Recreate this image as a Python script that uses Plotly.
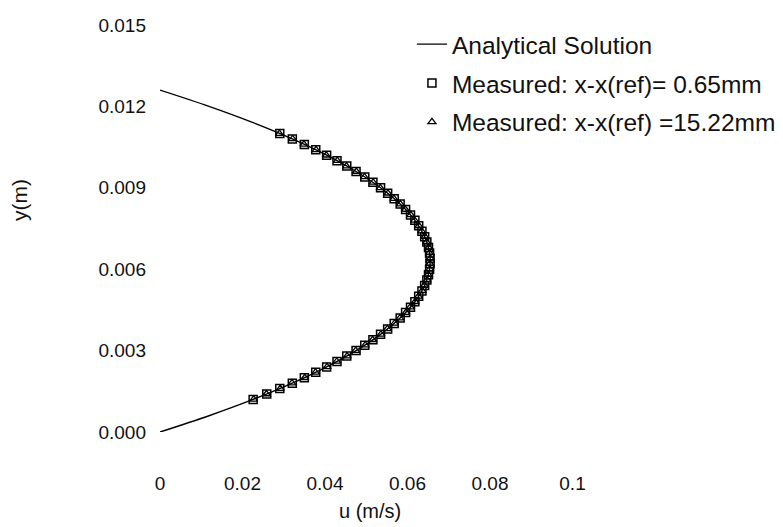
import plotly.graph_objects as go

# Analytical solution
y_line = [0.0, 0.0006, 0.0012, 0.0018, 0.0024, 0.0030, 0.0036, 0.0042, 0.0048, 0.0054, 0.0060,
          0.0066, 0.0072, 0.0078, 0.0084, 0.0090, 0.0096, 0.0102, 0.0108, 0.0114, 0.0120, 0.0126]
u_line = [0.0, 0.01188, 0.02258, 0.03208, 0.04040, 0.04753, 0.05347, 0.05822, 0.06179, 0.06416, 0.06535,
          0.06535, 0.06416, 0.06179, 0.05822, 0.05347, 0.04753, 0.04040, 0.03208, 0.02258, 0.01188, 0.0]

# Measured points
y_meas = [0.0012, 0.0014, 0.0016, 0.0018, 0.0020, 0.0022, 0.0024, 0.0026, 0.0028, 0.0030,
          0.0032, 0.0034, 0.0036, 0.0038, 0.0040, 0.0042, 0.0044, 0.0046, 0.0048, 0.0050,
          0.0052, 0.0054, 0.0056, 0.0058, 0.0060, 0.0062, 0.0064, 0.0066, 0.0068, 0.0070,
          0.0072, 0.0074, 0.0076, 0.0078, 0.0080, 0.0082, 0.0084, 0.0086, 0.0088, 0.0090,
          0.0092, 0.0094, 0.0096, 0.0098, 0.0100, 0.0102, 0.0104, 0.0106, 0.0108, 0.0110]
u_meas1 = [0.02258, 0.02588, 0.02904, 0.03208, 0.03499, 0.03776, 0.04040, 0.04291, 0.04528, 0.04753,
           0.04964, 0.05162, 0.05347, 0.05519, 0.05677, 0.05822, 0.05954, 0.06073, 0.06179, 0.06271,
           0.06350, 0.06416, 0.06469, 0.06509, 0.06535, 0.06548, 0.06548, 0.06535, 0.06509, 0.06469,
           0.06416, 0.06350, 0.06271, 0.06179, 0.06073, 0.05954, 0.05822, 0.05677, 0.05519, 0.05347,
           0.05162, 0.04964, 0.04753, 0.04528, 0.04291, 0.04040, 0.03776, 0.03499, 0.03208, 0.02904]
u_meas2 = [0.02270, 0.02580, 0.02915, 0.03200, 0.03510, 0.03770, 0.04050, 0.04285, 0.04535, 0.04745,
           0.04975, 0.05155, 0.05355, 0.05512, 0.05685, 0.05815, 0.05960, 0.06068, 0.06185, 0.06265,
           0.06355, 0.06410, 0.06475, 0.06502, 0.06540, 0.06542, 0.06553, 0.06530, 0.06514, 0.06462,
           0.06422, 0.06344, 0.06277, 0.06172, 0.06079, 0.05948, 0.05828, 0.05670, 0.05525, 0.05340,
           0.05168, 0.04957, 0.04760, 0.04520, 0.04298, 0.04032, 0.03784, 0.03490, 0.03216, 0.02895]

x_ticks = [0, 0.02, 0.04, 0.06, 0.08, 0.1]
x_ticktext = ["0", "0.02", "0.04", "0.06", "0.08", "0.1"]
y_ticks = [0.0, 0.003, 0.006, 0.009, 0.012, 0.015]
y_ticktext = ["0.000", "0.003", "0.006", "0.009", "0.012", "0.015"]

FONT = "Liberation Sans, Arial, sans-serif"

fig = go.Figure()
fig.add_trace(go.Scatter(x=u_line, y=y_line, mode="lines", line=dict(color="black", width=1.4, shape="spline"),
                         name="Analytical Solution", legendgroup="a"))
fig.add_trace(go.Scatter(x=u_meas1, y=y_meas, mode="markers",
                         marker=dict(symbol="square-open", size=8, color="black", line=dict(width=1.5)),
                         name="Measured: x-x(ref)= 0.65mm", legendgroup="b"))
fig.add_trace(go.Scatter(x=u_meas2, y=y_meas, mode="markers",
                         marker=dict(symbol="triangle-up-open", size=7, color="black", line=dict(width=1.3)),
                         name="Measured: x-x(ref) =15.22mm", legendgroup="c"))

fig.update_layout(
    width=783, height=527,
    margin=dict(l=160, r=128, t=25, b=95, autoexpand=False),
    paper_bgcolor="white", plot_bgcolor="white",
    font=dict(family=FONT, size=19, color="#111111"),
    showlegend=True,
    legend=dict(x=0.509, y=1.008, xanchor="left", yanchor="top", bgcolor="rgba(0,0,0,0)",
                font=dict(size=24.5), itemwidth=30, tracegroupgap=4),
    xaxis=dict(range=[0, 0.12], tickvals=x_ticks, ticktext=x_ticktext, showgrid=False, zeroline=False,
               showline=False, ticks="", ticklabelstandoff=38),
    yaxis=dict(range=[0, 0.015], tickvals=y_ticks, ticktext=y_ticktext, showgrid=False, zeroline=False,
               showline=False, ticks="", ticklabelstandoff=13),
    annotations=[
        dict(text="u (m/s)", xref="paper", yref="paper", x=(370 - 160) / 495, y=-(511 - 432) / 407,
             xanchor="center", yanchor="middle", showarrow=False, font=dict(size=20)),
        dict(text="y(m)", xref="paper", yref="paper", x=-(160 - 20) / 495, y=(432 - 200) / 407,
             xanchor="center", yanchor="middle", showarrow=False, textangle=-90, font=dict(size=21)),
    ],
)

fig.write_html("out.html")
